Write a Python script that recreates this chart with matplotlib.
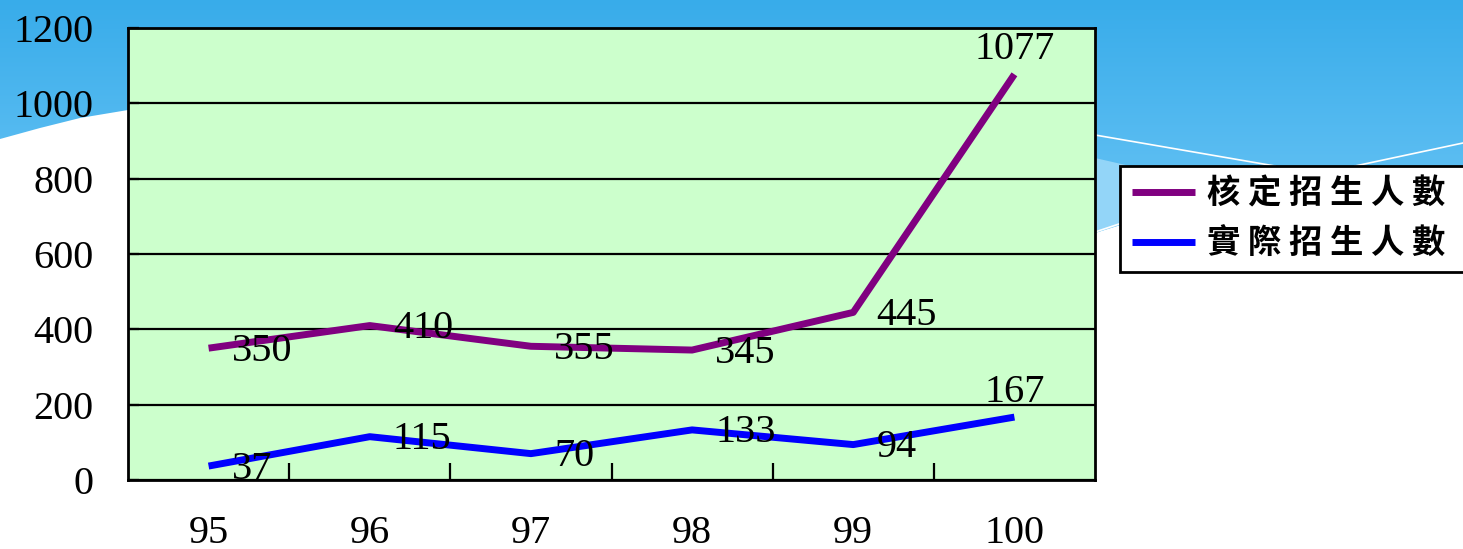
import matplotlib.pyplot as plt
import numpy as np
from matplotlib.colors import LinearSegmentedColormap
from matplotlib.patches import Polygon
from matplotlib.font_manager import FontProperties

plt.rcParams['font.family'] = ['Liberation Serif', 'Noto Sans CJK TC']

# data
years = ['95', '96', '97', '98', '99', '100']
approved = [350, 410, 355, 345, 445, 1077]   # 核定招生人數
actual = [37, 115, 70, 133, 94, 167]         # 實際招生人數
series_names = ['核定招生人數', '實際招生人數']
y_ticks = [0, 200, 400, 600, 800, 1000, 1200]

W, H = 1463, 549
fig = plt.figure(figsize=(W / 100, H / 100), dpi=100, facecolor='white')

# slide background (pixel coordinates)
bg = fig.add_axes([0, 0, 1, 1])
bg.set_zorder(-1)
bg.set_xlim(0, W)
bg.set_ylim(H, 0)
bg.axis('off')
sky = Polygon([(0, 0), (W, 0), (W, 230), (1130, 222), (1095, 233), (1095, 160),
               (600, 100), (128, 110), (80, 118), (40, 128), (0, 139)],
              closed=True, facecolor='none', edgecolor='none')
bg.add_patch(sky)
cmap = LinearSegmentedColormap.from_list('sky', ['#38ACEA', '#6DC6F6'])
img = bg.imshow(np.linspace(0, 1, 256).reshape(-1, 1), extent=[0, W, 250, 0],
                cmap=cmap, aspect='auto')
img.set_clip_path(sky)
bg.add_patch(Polygon([(1095, 158), (1130, 166), (1130, 222), (1095, 233)],
                     closed=True, facecolor='#93D5F8', edgecolor='none'))
bg.plot([1095, 1275], [135, 166], color='white', lw=1.2)
bg.plot([1355, 1463], [166, 143], color='white', lw=1.2)
bg.plot([1095, 1125], [232, 222], color='white', lw=1.2)
bg.set_xlim(0, W)
bg.set_ylim(H, 0)

# main chart
ax = fig.add_axes([128 / W, 69 / H, 967 / W, 452 / H])
ax.set_facecolor('#CCFFCC')
x = np.arange(len(years))
l1, = ax.plot(x, approved, color='#800080', lw=5, solid_capstyle='butt', zorder=3)
l2, = ax.plot(x, actual, color='#0000FF', lw=5, solid_capstyle='butt', zorder=3)

for i, (a, b) in enumerate(zip(approved, actual)):
    for v in (a, b):
        if i < len(years) - 1:
            ax.annotate(str(v), (i, v), xytext=(23, -3), textcoords='offset pixels',
                        ha='left', va='center', fontsize=29, zorder=4,
                        annotation_clip=False)
        else:
            ax.annotate(str(v), (i, v), xytext=(0, 6), textcoords='offset pixels',
                        ha='center', va='bottom', fontsize=29, zorder=4,
                        annotation_clip=False)

ax.set_xlim(-0.5, len(years) - 0.5)
ax.set_ylim(0, 1200)
ax.set_yticks(y_ticks)
ax.set_yticklabels([str(t) for t in y_ticks], fontsize=29)
ax.yaxis.grid(True, color='black', lw=1.6)
ax.set_axisbelow(True)
ax.tick_params(axis='y', direction='in', length=8, width=1.6, pad=25)

ax.set_xticks(np.arange(len(years) - 1) + 0.5)
ax.set_xticklabels([])
ax.set_xticks(x, minor=True)
ax.set_xticklabels(years, minor=True, fontsize=29)
ax.tick_params(axis='x', which='major', direction='in', length=12, width=1.6)
ax.tick_params(axis='x', which='minor', length=0, pad=25)
for s in ax.spines.values():
    s.set_linewidth(2)
    s.set_color('black')

# labels padded at the end so the frame runs off the right edge, as on the slide
leg = fig.legend([l1, l2], [' '.join(n) + '  ' for n in series_names],
                 loc='upper left', bbox_to_anchor=(1120 / W, 1 - 166 / H),
                 borderaxespad=0, fancybox=False, framealpha=1, edgecolor='black',
                 prop=FontProperties(family='Noto Sans CJK TC', size=24, weight='bold'),
                 handlelength=1.9, handletextpad=0.36, labelspacing=0.5, borderpad=0.35)
leg.get_frame().set_linewidth(2)

fig.savefig('out.png', dpi=100, facecolor='white')
